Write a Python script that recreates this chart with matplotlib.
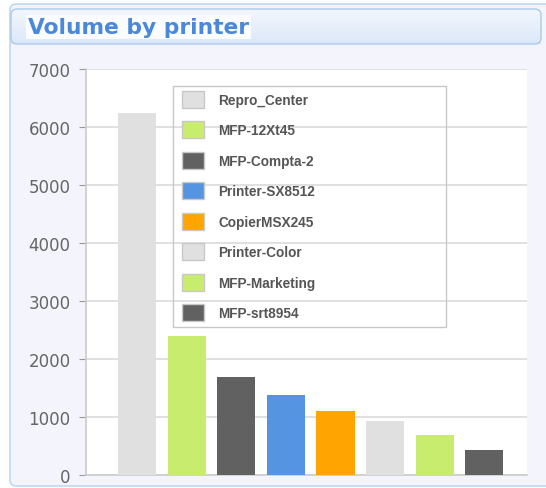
import matplotlib
matplotlib.use("Agg")
import matplotlib.pyplot as plt
from matplotlib.patches import FancyBboxPatch, Patch, Rectangle
import numpy as np

printers = ["Repro_Center", "MFP-12Xt45", "MFP-Compta-2", "Printer-SX8512",
            "CopierMSX245", "Printer-Color", "MFP-Marketing", "MFP-srt8954"]
volumes = [6250, 2400, 1690, 1380, 1100, 930, 690, 430]
colors = ["#e0e0e0", "#c8ed6e", "#616161", "#5594e0",
          "#ffa400", "#e0e0e0", "#c8ed6e", "#616161"]
yticks = [0, 1000, 2000, 3000, 4000, 5000, 6000, 7000]
title = "Volume by printer"

W, H = 546, 489
fig = plt.figure(figsize=(W / 100, H / 100), dpi=100)
fig.patch.set_facecolor("white")

def fx(px):
    return px / W

def fy(py):
    return 1 - py / H

# outer panel
panel = FancyBboxPatch((fx(10), fy(487)), fx(560) - fx(10), fy(5) - fy(487),
                       boxstyle="round,pad=0,rounding_size=0.012",
                       transform=fig.transFigure, facecolor="#f3f4fc",
                       edgecolor="#b5d2ee", linewidth=1.0, zorder=0)
fig.patches.append(panel)

# title box with gradient
grad_ax = fig.add_axes([fx(11), fy(45), fx(541) - fx(11), fy(10) - fy(45)], zorder=1)
g = np.linspace(0, 1, 50).reshape(-1, 1)
c1 = np.array([0xf3, 0xf6, 0xfd]) / 255
c2 = np.array([0xdc, 0xe8, 0xf9]) / 255
img = c1 + (c2 - c1) * g[:, :, None] * np.ones((1, 1, 3))
grad_ax.imshow(img, aspect="auto", extent=[0, 1, 0, 1], origin="upper")
grad_ax.set_axis_off()
tbox = FancyBboxPatch((fx(11), fy(45)), fx(541) - fx(11), fy(10) - fy(45),
                      boxstyle="round,pad=0,rounding_size=0.012",
                      transform=fig.transFigure, facecolor="none",
                      edgecolor="#a9c9ec", linewidth=1.0, zorder=2)
fig.patches.append(tbox)
fig.text(fx(28), fy(28), title, fontsize=15.7, fontweight="bold", color="#4a88dc",
         ha="left", va="center", family="DejaVu Sans",
         bbox=dict(facecolor="#fbfcff", edgecolor="none", pad=1.5), zorder=3)

# main axes
AX_L, AX_R, AX_T, AX_B = 86, 527, 70, 476
ax = fig.add_axes([fx(AX_L), fy(AX_B), fx(AX_R) - fx(AX_L), fy(AX_T) - fy(AX_B)], zorder=1)
ax.set_facecolor("white")
x = np.arange(len(printers))
ax.bar(x, volumes, width=0.77, color=colors, edgecolor="none", zorder=3)
ax.set_xlim(-1.03, 7.86)
ax.set_ylim(0, 7000)
ax.set_yticks(yticks)
ax.set_yticklabels([str(v) for v in yticks], fontsize=12, color="#666666")
ax.set_xticks([])
ax.grid(axis="y", color="#dadada", linewidth=1.2, zorder=0)
for s in ["top", "right"]:
    ax.spines[s].set_visible(False)
ax.spines["left"].set_color("#cccccc")
ax.spines["bottom"].set_color("#cccccc")
ax.spines["left"].set_linewidth(1.2)
ax.spines["bottom"].set_linewidth(1.2)
ax.tick_params(axis="y", length=5, color="#999999", pad=6)

def axx(px):
    return (px - AX_L) / (AX_R - AX_L)

def axy(py):
    return (AX_B - py) / (AX_B - AX_T)

# legend frame
ax.add_patch(Rectangle((axx(173), axy(328)), axx(446) - axx(173), axy(87) - axy(328),
                       transform=ax.transAxes, facecolor="none",
                       edgecolor="#c8c8c8", linewidth=1.0, zorder=4))

handles = [Patch(facecolor=c, edgecolor="#c8c8c8", linewidth=1.0) for c in colors]
leg = ax.legend(handles, printers, loc="upper left",
                bbox_to_anchor=(axx(182), axy(92)),
                frameon=False, prop=dict(family="Liberation Sans", weight="bold", size=9.8),
                labelspacing=1.02, handlelength=1.65, handleheight=1.5,
                handletextpad=1.0, borderpad=0, borderaxespad=0)
leg.set_zorder(5)
for t in leg.get_texts():
    t.set_color("#555555")

fig.savefig("out.png", dpi=100)
